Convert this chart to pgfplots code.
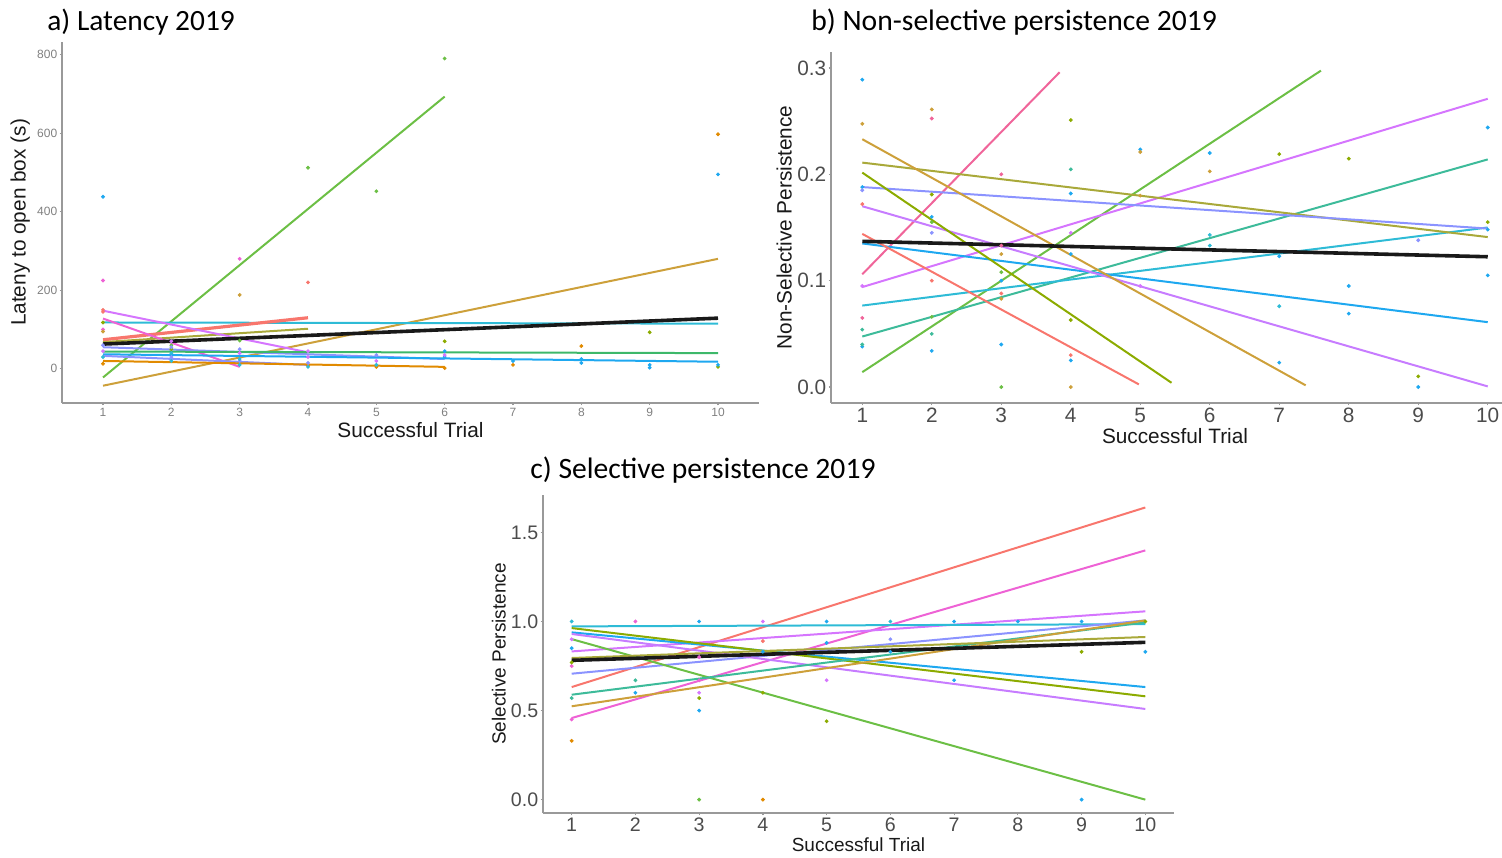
\documentclass[border=0pt]{standalone}
\usepackage{fontspec}
\setmainfont{Liberation Sans}
\newfontfamily\titlefont{Carlito}
\usepackage{pgfplots}
\pgfplotsset{compat=1.18}
\definecolor{cA}{HTML}{F8766D}
\definecolor{cB}{HTML}{E18A00}
\definecolor{cC}{HTML}{CDA03A}
\definecolor{cD}{HTML}{8CAB00}
\definecolor{cD2}{HTML}{A9A93A}
\definecolor{cE}{HTML}{6CBF45}
\definecolor{cF}{HTML}{3DB86A}
\definecolor{cG}{HTML}{3DBB9A}
\definecolor{cH}{HTML}{2EBBD6}
\definecolor{cI}{HTML}{1EA8F0}
\definecolor{cJ}{HTML}{8B93FF}
\definecolor{cK}{HTML}{D575FE}
\definecolor{cN}{HTML}{C77CFF}
\definecolor{cL}{HTML}{EE62D5}
\definecolor{cM}{HTML}{F0659A}
\pgfplotsset{
  common/.style={
    scale only axis, anchor=south west,
    axis x line=bottom, axis y line=left,
    axis line style={-, draw=black!40, line width=1pt},
    tick style={draw=black!40, line width=0.6pt},
    tick align=outside, major tick length=1.2pt,
    xtick={1,...,10},
    /pgf/number format/assume math mode=true,
    label style={font=\fontsize{10.4}{12}\selectfont, text=black!90},
    ticklabel style={font=\fontsize{10.4}{12}\selectfont, text=black!70, inner sep=1pt},
  },
  ln/.style={line width=1pt, mark=none},
  bk/.style={line width=1.8pt, mark=none, black!90},
  pt/.style={only marks, mark=*, mark size=0.75pt},
}
\begin{document}
\begin{tikzpicture}
\useasboundingbox (0,0) rectangle (751pt,428.5pt);
\clip (0,0) rectangle (751pt,428.5pt);
% ---------------- panel a
\begin{axis}[common, at={(31pt,227pt)}, width=348.5pt, height=180.5pt,
  xmin=0.4, xmax=10.6, ymin=-87, ymax=832,
  ytick={0,200,400,600,800},
  ticklabel style={font=\fontsize{6}{7}\selectfont, text=black!50, inner sep=1pt},
  xlabel={Successful Trial}, ylabel={Lateny to open box (s)},
  xlabel style={at={(axis description cs:0.5,-0.075)}, anchor=center},
  ylabel style={at={(axis description cs:-0.06,0.5)}, anchor=center},
]
\addplot[pt, cE] coordinates {(6,790) (4,512) (5,452) (3,72) (2,60)};
\addplot[pt, cD] coordinates {(9,93) (6,70) (10,5) (1,118) (2,50)};
\addplot[pt, cB] coordinates {(10,597) (8,58) (7,10) (1,13) (6,2) (5,5) (4,8)};
\addplot[pt, cI] coordinates {(10,495) (1,438) (6,45) (7,20) (8,25) (9,10) (10,10) (6,30) (8,15) (9,3)};
\addplot[pt, cL] coordinates {(1,225) (3,280) (1,100)};
\addplot[pt, cA] coordinates {(4,220) (1,150) (1,145)};
\addplot[pt, cC] coordinates {(3,188) (1,95)};
\addplot[pt, cJ] coordinates {(1,60) (2,30) (3,20) (4,15) (5,35) (2,55) (3,50)};
\addplot[pt, cK] coordinates {(1,45) (2,70) (3,40) (4,30) (5,20) (6,35) (4,45)};
\addplot[pt, cH] coordinates {(1,30) (2,40) (3,25) (4,5) (5,10) (2,20) (3,10)};
\addplot[ln, cE] coordinates {(1,-22) (6,693)};
\addplot[ln, cC] coordinates {(1,-43) (10,280)};
\addplot[ln, cH] coordinates {(1,118) (10,115)};
\addplot[ln, cA, line width=1.6pt] coordinates {(1,74) (4,130)};
\addplot[ln, cD2] coordinates {(1,68) (4,102)};
\addplot[ln, cK] coordinates {(1,148) (4,42)};
\addplot[ln, cL] coordinates {(1,128) (3,5)};
\addplot[ln, cJ] coordinates {(1,55) (6,25)};
\addplot[ln, cF] coordinates {(1,44) (10,40)};
\addplot[ln, cI] coordinates {(1,37) (10,18)};
\addplot[ln, cJ] coordinates {(1,33) (4,10)};
\addplot[ln, cB] coordinates {(1,20) (6,5)};
\addplot[bk] coordinates {(1,63) (10,129)};
\end{axis}
% ---------------- panel b
\begin{axis}[common, at={(415.5pt,227pt)}, width=344pt, height=175.5pt,
  xmin=0.55, xmax=10.45, ymin=-0.015, ymax=0.315,
  ytick={0,0.1,0.2,0.3},
  yticklabel style={/pgf/number format/.cd, fixed, fixed zerofill, precision=1},
  xlabel={Successful Trial}, ylabel={Non-Selective Persistence},
  xlabel style={at={(axis description cs:0.5,-0.094)}, anchor=center},
  ylabel style={at={(axis description cs:-0.068,0.5)}, anchor=center},
]
\addplot[pt, cI] coordinates {(1,0.289) (5,0.2234) (6,0.22) (10,0.244) (4,0.182) (1,0.188) (2,0.16) (4,0.125) (7,0.123) (3,0.1) (10,0.105) (8,0.095) (8,0.069) (1,0.038) (3,0.04) (2,0.034) (4,0.025) (7,0.023) (9,0.0) (10,0.148)};
\addplot[pt, cC] coordinates {(1,0.2475) (2,0.261) (5,0.221) (6,0.2028) (5,0.18) (3,0.125) (3,0.083) (4,0.0)};
\addplot[pt, cD] coordinates {(4,0.251) (7,0.219) (8,0.2147) (2,0.181) (10,0.155) (4,0.063) (9,0.01)};
\addplot[pt, cM] coordinates {(2,0.2525) (3,0.2) (1,0.065) (3,0.133)};
\addplot[pt, cG] coordinates {(4,0.2047) (1,0.054) (2,0.05) (1,0.04)};
\addplot[pt, cA] coordinates {(1,0.172) (2,0.1) (3,0.088) (4,0.03)};
\addplot[pt, cE] coordinates {(2,0.155) (3,0.108) (2,0.066) (3,0.0)};
\addplot[pt, cJ] coordinates {(2,0.145) (9,0.138) (1,0.185)};
\addplot[pt, cK] coordinates {(4,0.145) (5,0.095) (1,0.095)};
\addplot[pt, cH] coordinates {(6,0.143) (6,0.133) (7,0.076)};
\addplot[ln, cM] coordinates {(1,0.106) (3.84,0.296)};
\addplot[ln, cE] coordinates {(1,0.014) (7.6,0.2975)};
\addplot[ln, cK] coordinates {(1,0.094) (10,0.271)};
\addplot[ln, cG] coordinates {(1,0.0475) (10,0.214)};
\addplot[ln, cH] coordinates {(1,0.0766) (10,0.15)};
\addplot[ln, cD2] coordinates {(1,0.211) (10,0.141)};
\addplot[ln, cJ] coordinates {(1,0.188) (10,0.149)};
\addplot[ln, cI] coordinates {(1,0.135) (10,0.061)};
\addplot[ln, cN] coordinates {(1,0.170) (10,0.0006)};
\addplot[ln, cC] coordinates {(1,0.233) (7.38,0.0016)};
\addplot[ln, cD] coordinates {(1,0.2016) (5.45,0.004)};
\addplot[ln, cA] coordinates {(1,0.144) (4.98,0.0025)};
\addplot[bk] coordinates {(1,0.137) (10,0.1225)};
\end{axis}
% ---------------- panel c
\begin{axis}[common, at={(271.5pt,22pt)}, width=315.5pt, height=159pt,
  xmin=0.55, xmax=10.45, ymin=-0.075, ymax=1.71,
  ytick={0,0.5,1,1.5},
  yticklabel style={/pgf/number format/.cd, fixed, fixed zerofill, precision=1},
  label style={font=\fontsize{9.5}{11}\selectfont, text=black!90},
  ticklabel style={font=\fontsize{9.8}{11}\selectfont, text=black!70, inner sep=1pt},
  xlabel={Successful Trial}, ylabel={Selective Persistence},
  xlabel style={at={(axis description cs:0.5,-0.10)}, anchor=center},
  ylabel style={at={(axis description cs:-0.07,0.5)}, anchor=center},
]
\addplot[pt, cH] coordinates {(1,1.0) (6,1.0)};
\addplot[pt, cL] coordinates {(2,1.0) (1,0.75) (1,0.45) (3,0.67) (3,0.8)};
\addplot[pt, cI] coordinates {(3,1.0) (5,1.0) (7,1.0) (8,1.0) (9,1.0) (1,0.85) (2,0.6) (3,0.5) (4,0.83) (5,0.88) (6,0.83) (7,0.67) (9,0.0) (10,0.83)};
\addplot[pt, cK] coordinates {(4,1.0) (1,0.9) (3,0.6) (5,0.67)};
\addplot[pt, cD] coordinates {(10,1.0) (1,0.77) (3,0.57) (4,0.6) (5,0.44) (9,0.83)};
\addplot[pt, cG] coordinates {(1,0.57) (2,0.67)};
\addplot[pt, cB] coordinates {(1,0.33) (4,0.0)};
\addplot[pt, cE] coordinates {(3,0.0)};
\addplot[pt, cA] coordinates {(4,0.89)};
\addplot[pt, cJ] coordinates {(6,0.9)};
\addplot[ln, cA] coordinates {(1,0.632) (10,1.64)};
\addplot[ln, cL] coordinates {(1,0.458) (10,1.399)};
\addplot[ln, cK] coordinates {(1,0.832) (10,1.057)};
\addplot[ln, cH] coordinates {(1,0.9725) (10,0.985)};
\addplot[ln, cJ] coordinates {(1,0.707) (10,1.006)};
\addplot[ln, cI] coordinates {(1,0.939) (10,0.632)};
\addplot[ln, cD] coordinates {(1,0.963) (10,0.58)};
\addplot[ln, cN] coordinates {(1,0.93) (10,0.509)};
\addplot[ln, cE] coordinates {(1,0.901) (10,0.0)};
\addplot[ln, cG] coordinates {(1,0.589) (10,0.995)};
\addplot[ln, cC] coordinates {(1,0.524) (10,1.006)};
\addplot[ln, cD2] coordinates {(1,0.795) (10,0.913)};
\addplot[bk] coordinates {(1,0.782) (10,0.883)};
\end{axis}
% titles
\node[anchor=west, inner sep=0pt, font=\titlefont\fontsize{14.7}{16}\selectfont] at (23.5pt,417.5pt) {a) Latency 2019};
\node[anchor=west, inner sep=0pt, font=\titlefont\fontsize{14.8}{16}\selectfont] at (405.5pt,417.5pt) {b) Non-selective persistence 2019};
\node[anchor=west, inner sep=0pt, font=\titlefont\fontsize{14.8}{16}\selectfont] at (265pt,193.5pt) {c) Selective persistence 2019};
\end{tikzpicture}
\end{document}
